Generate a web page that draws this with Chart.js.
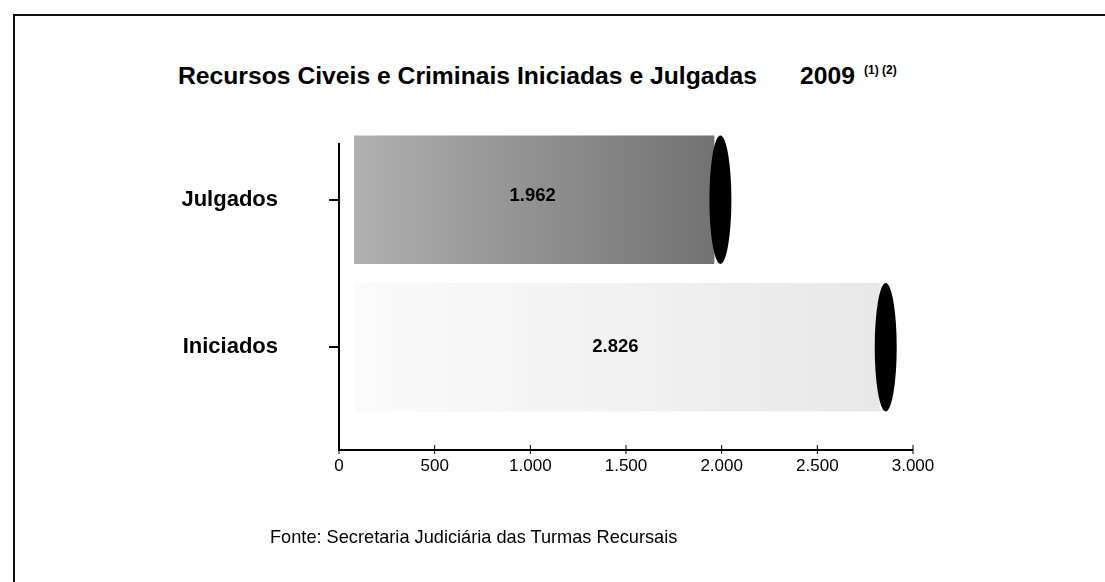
<!DOCTYPE html>
<html>
<head>
<meta charset="utf-8">
<script src="https://cdn.jsdelivr.net/npm/chart.js@4/dist/chart.umd.min.js"></script>
<style>
  html, body { margin: 0; padding: 0; background: #fff; }
  #wrap { position: relative; width: 1105px; height: 582px; overflow: hidden; font-family: "Liberation Sans", Arial, sans-serif; color: #000; }
  #frame { position: absolute; left: 13px; top: 14px; width: 1100px; height: 580px; border-top: 2px solid #111; border-left: 2px solid #111; }
  #title { position: absolute; left: 178px; top: 62px; font-size: 24.7px; font-weight: bold; white-space: nowrap; }
  #title .year { margin-left: 43px; }
  #title sup { font-size: 12px; vertical-align: 10px; margin-left: 9px; }
  #source { position: absolute; left: 270px; top: 527px; font-size: 18.2px; white-space: nowrap; }
  canvas { position: absolute; left: 0; top: 0; }
</style>
</head>
<body>
<div id="wrap">
  <div id="frame"></div>
  <div id="title">Recursos Civeis e Criminais Iniciadas e Julgadas<span class="year">2009</span><sup>(1) (2)</sup></div>
  <canvas id="chart" width="1105" height="582"></canvas>
  <div id="source">Fonte: Secretaria Judiciária das Turmas Recursais</div>
</div>
<script>
const categories = ['Julgados', 'Iniciados'];
const values = [1962, 2826];
const xMax = 3000;
const xStep = 500;

// light/dark ends of each bar's gradient
const fills = [['#b0b0b0', '#727272'], ['#fbfbfb', '#e8e8e8']];

function fmt(n) {
  return String(n).replace(/\B(?=(\d{3})+(?!\d))/g, '.');
}

function barFill(c) {
  const chart = c.chart;
  if (!chart.chartArea || !chart.scales.x) return fills[c.dataIndex][1];
  const x = chart.scales.x;
  const x0 = x.getPixelForValue(0);
  const x1 = x.getPixelForValue(values[c.dataIndex]);
  const gap = 15 / (x1 - x0); // white strip next to the axis, as in the 3D original
  const g = chart.ctx.createLinearGradient(x0, 0, x1, 0);
  g.addColorStop(0, '#ffffff');
  g.addColorStop(gap, '#ffffff');
  g.addColorStop(gap + 0.001, fills[c.dataIndex][0]);
  g.addColorStop(1, fills[c.dataIndex][1]);
  return g;
}

// axis lines sit a bit below / beside the plot area, like the original 3D chart
const axesPlugin = {
  id: 'axes',
  afterDraw(chart) {
    const { ctx, chartArea, scales: { x } } = chart;
    const x0 = x.getPixelForValue(0);
    const x1 = x.getPixelForValue(xMax);
    const yAx = chartArea.bottom + 29;
    ctx.save();
    ctx.strokeStyle = '#000';
    ctx.lineWidth = 2;
    ctx.beginPath();
    ctx.moveTo(x0, chartArea.top + 17);
    ctx.lineTo(x0, yAx);
    ctx.lineTo(x1, yAx);
    ctx.stroke();
    ctx.lineWidth = 1;
    x.ticks.forEach(t => {
      const px = x.getPixelForValue(t.value);
      ctx.beginPath();
      ctx.moveTo(px, yAx - 5);
      ctx.lineTo(px, yAx + 4);
      ctx.stroke();
    });
    ctx.restore();
  }
};

// black end caps and value labels
const capsPlugin = {
  id: 'caps',
  afterDatasetsDraw(chart) {
    const { ctx, scales: { x } } = chart;
    const x0 = x.getPixelForValue(0);
    ctx.save();
    chart.getDatasetMeta(0).data.forEach((el, i) => {
      ctx.fillStyle = '#000';
      ctx.beginPath();
      ctx.ellipse(el.x + 6, el.y, 11, el.height / 2, 0, 0, Math.PI * 2);
      ctx.fill();
      ctx.font = 'bold 18.5px "Liberation Sans", Arial, sans-serif';
      ctx.textAlign = 'center';
      ctx.textBaseline = 'middle';
      ctx.fillText(fmt(values[i]), (x0 + el.x) / 2 + 6, el.y - (i === 0 ? 4 : 0));
    });
    ctx.restore();
  }
};

new Chart(document.getElementById('chart'), {
  type: 'bar',
  data: {
    labels: categories,
    datasets: [{
      data: values,
      backgroundColor: barFill,
      borderWidth: 0,
      barPercentage: 0.87,
      categoryPercentage: 1,
    }]
  },
  options: {
    indexAxis: 'y',
    responsive: false,
    animation: false,
    layout: { padding: { top: 126, right: 192, left: 0, bottom: 0 } },
    plugins: { legend: { display: false }, tooltip: { enabled: false } },
    scales: {
      x: {
        min: 0,
        max: xMax,
        ticks: { stepSize: xStep, padding: 35, color: '#000', font: { size: 17, family: '"Liberation Sans", Arial, sans-serif' }, callback: v => fmt(v) },
        grid: { display: false, drawTicks: false },
        border: { display: false },
        afterFit: s => { s.height = 161; },
      },
      y: {
        ticks: { color: '#000', padding: 51, font: { size: 22, weight: 'bold', family: '"Liberation Sans", Arial, sans-serif' } },
        grid: { drawOnChartArea: false, offset: false, tickLength: 10, color: '#000', lineWidth: 2 },
        border: { display: false },
        afterFit: s => { s.width = 339; },
      }
    }
  },
  plugins: [axesPlugin, capsPlugin]
});
</script>
</body>
</html>
